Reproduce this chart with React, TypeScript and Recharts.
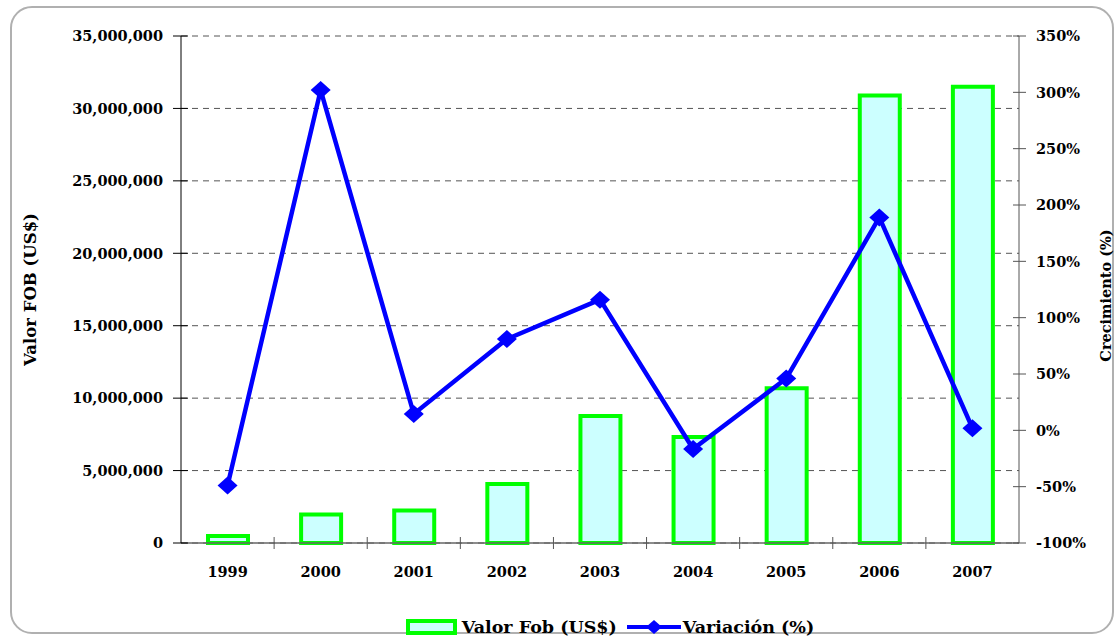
import React from 'react';
import { ComposedChart, Bar, Line, XAxis, YAxis, CartesianGrid, Legend } from 'recharts';

const years = ['1999', '2000', '2001', '2002', '2003', '2004', '2005', '2006', '2007'];
const valorFob = [490000, 1970000, 2250000, 4070000, 8770000, 7310000, 10680000, 30900000, 31500000];
const variacion = [-49, 302, 14.5, 81, 116, -16.6, 46, 189, 1.9];
const leftTicks = [0, 5000000, 10000000, 15000000, 20000000, 25000000, 30000000, 35000000];
const rightTicks = [-100, -50, 0, 50, 100, 150, 200, 250, 300, 350];

const data = years.map((year, i) => ({ year, fob: valorFob[i], pct: variacion[i] }));

const FONT = '"DejaVu Serif", serif';

const LeftTick = (props: any) => {
  const { x, y, payload } = props;
  const ax = x + 18;
  return (
    <g>
      <line x1={ax - 8} x2={ax + 7} y1={y} y2={y} stroke="#000" strokeWidth={1} />
      <text x={x} y={y} dy="0.36em" textAnchor="end" fontFamily={FONT} fontWeight="bold" fontSize={14.5} fill="#000">
        {Number(payload.value).toLocaleString('en-US')}
      </text>
    </g>
  );
};

const RightTick = (props: any) => {
  const { x, y, payload } = props;
  const ax = x - 17;
  return (
    <g>
      <line x1={ax - 6} x2={ax + 7} y1={y} y2={y} stroke="#555" strokeWidth={1} />
      <text x={x} y={y} dy="0.36em" textAnchor="start" fontFamily={FONT} fontWeight="bold" fontSize={14.5} fill="#000">
        {payload.value}%
      </text>
    </g>
  );
};

const BottomTick = (props: any) => {
  const { x, y, payload, index } = props;
  const ay = y - 24;
  const half = payload.offset ?? 838 / years.length / 2;
  return (
    <g>
      {index > 0 && <line x1={x - half} x2={x - half} y1={ay - 6} y2={ay + 6} stroke="#555" strokeWidth={1} />}
      <text x={x} y={y} dy="0.71em" textAnchor="middle" fontFamily={FONT} fontWeight="bold" fontSize={14.5} fill="#000">
        {payload.value}
      </text>
    </g>
  );
};

const Diamond = (props: any) => {
  const { cx, cy, index } = props;
  if (cx == null || cy == null) return null;
  return (
    <path key={`d-${index}`} d={`M${cx},${cy - 9} L${cx + 10},${cy} L${cx},${cy + 9} L${cx - 10},${cy} Z`} fill="#0000FF" />
  );
};

const LegendContent = () => (
  <div style={{ height: 26, display: 'flex', justifyContent: 'center', alignItems: 'center', fontFamily: FONT, fontWeight: 'bold', fontSize: 17.5, color: '#000', paddingLeft: 104, paddingTop: 5, boxSizing: 'border-box', whiteSpace: 'nowrap' }}>
    <svg width={52} height={16} style={{ marginRight: 4 }}>
      <rect x={2} y={2} width={47} height={12} fill="#CCFFFF" stroke="#00FF00" strokeWidth={4} />
    </svg>
    <span style={{ marginRight: 10 }}>Valor Fob (US$)</span>
    <svg width={54} height={18} style={{ marginRight: 2 }}>
      <line x1={0} x2={54} y1={9} y2={9} stroke="#0000FF" strokeWidth={4} />
      <path d="M27,2 L35,9 L27,16 L19,9 Z" fill="#0000FF" />
    </svg>
    <span>Variación (%)</span>
  </div>
);

export default function App() {
  return (
    <div style={{ position: 'absolute', left: 0, top: 0, width: 1116, height: 637, background: '#fff' }}>
      <div style={{ position: 'absolute', left: 10, top: 6, width: 1104, height: 628, border: '2px solid #b0b0b0', borderRadius: 22, boxSizing: 'border-box' }} />
      <div style={{ position: 'absolute', left: 0, top: 0 }}>
        <ComposedChart width={1116} height={637} data={data} margin={{ top: 36, right: 0, bottom: 0, left: 0 }}>
          <CartesianGrid yAxisId="left" vertical={false} stroke="#555" strokeDasharray="6 5" />
          <XAxis
            dataKey="year"
            height={68}
            axisLine={{ stroke: '#666', strokeWidth: 1.5 }}
            tickLine={false}
            tickSize={6}
            tickMargin={18}
            tick={<BottomTick />}
            interval={0}
          />
          <YAxis
            yAxisId="left"
            orientation="left"
            width={181}
            domain={[0, 35000000]}
            ticks={leftTicks}
            interval={0}
            axisLine={{ stroke: '#000', strokeWidth: 1 }}
            tickLine={false}
            tickSize={8}
            tickMargin={10}
            tick={<LeftTick />}
            label={{
              content: ({ viewBox }: any) => {
                const cx = viewBox.x + 30;
                const cy = viewBox.y + viewBox.height / 2;
                return (
                  <text x={cx} y={cy} transform={`rotate(-90 ${cx} ${cy})`} textAnchor="middle" dominantBaseline="central" fontFamily={FONT} fontWeight="bold" fontSize={16.5} fill="#000">
                    Valor FOB (US$)
                  </text>
                );
              },
            }}
          />
          <YAxis
            yAxisId="right"
            orientation="right"
            width={97}
            domain={[-100, 350]}
            ticks={rightTicks}
            interval={0}
            axisLine={{ stroke: '#555', strokeWidth: 1 }}
            tickLine={false}
            tickSize={7}
            tickMargin={10}
            tick={<RightTick />}
            label={{
              content: ({ viewBox }: any) => {
                const cx = viewBox.x + 86;
                const cy = viewBox.y + viewBox.height / 2 + 6;
                return (
                  <text x={cx} y={cy} transform={`rotate(-90 ${cx} ${cy})`} textAnchor="middle" dominantBaseline="central" fontFamily={FONT} fontWeight="bold" fontSize={14.5} fill="#000">
                    Crecimiento (%)
                  </text>
                );
              },
            }}
          />
          <Bar yAxisId="left" dataKey="fob" name="Valor Fob (US$)" barSize={40} fill="#CCFFFF" stroke="#00FF00" strokeWidth={4} isAnimationActive={false} />
          <Line yAxisId="right" dataKey="pct" name="Variación (%)" stroke="#0000FF" strokeWidth={4.5} dot={<Diamond />} activeDot={false} isAnimationActive={false} />
          <Legend verticalAlign="bottom" height={26} content={<LegendContent />} wrapperStyle={{ height: 26 }} />
        </ComposedChart>
      </div>
    </div>
  );
}
